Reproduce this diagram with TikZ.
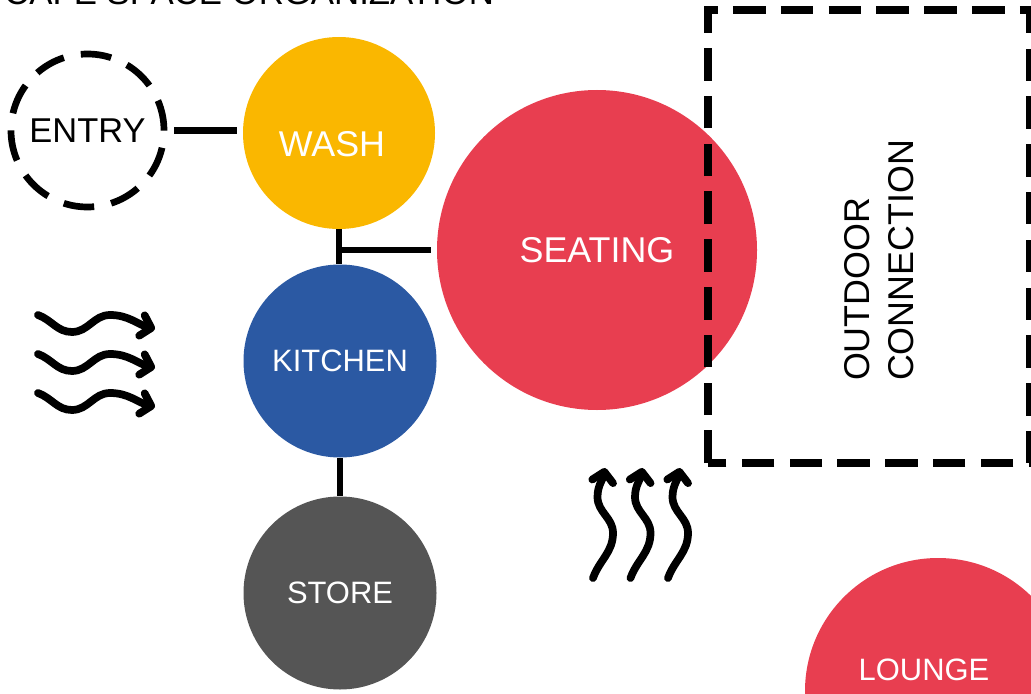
\documentclass[tikz,border=0pt]{standalone}
\usepackage{fontspec}
\setmainfont{Liberation Sans}
\usetikzlibrary{arrows.meta,positioning,calc}
\definecolor{washYellow}{RGB}{250,183,0}
\definecolor{kitchenBlue}{RGB}{43,89,163}
\definecolor{storeGray}{RGB}{85,85,85}
\definecolor{seatRed}{RGB}{232,62,80}
\tikzset{
  room/.style={circle, inner sep=0pt, text=white},
  bigtext/.style={font=\fontsize{20.4}{25}\selectfont},
  smalltext/.style={font=\fontsize{17.6}{21}\selectfont},
  entryring/.style={circle, draw=black, line width=3.8pt, inner sep=0pt,
    dash pattern=on 17.5pt off 9.85pt, font=\fontsize{19.6}{23}\selectfont},
  zonebox/.style={draw=black, line width=4pt, dash pattern=on 18.5pt off 8.7pt},
  link/.style={draw=black, line width=3.8pt},
  flowArrow/.style={line width=4.4pt, line cap=round,
    -{Straight Barb[length=5.5pt,width=12pt,round]}}
}

\begin{document}
\begin{tikzpicture}
  \useasboundingbox (0,0) rectangle (20.62,-13.86);
  \clip (0,0) rectangle (20.62,-13.86);
  \node[anchor=base west, font=\fontsize{19.8}{24}\selectfont] (title) at (-0.04,-0.1) {CAFE SPACE ORGANIZATION};

  \node[entryring, minimum size=3.06cm] (entry) at (1.75,-2.61) {ENTRY};
  \node[room, fill=washYellow, minimum size=3.84cm,
        label={[bigtext, text=white, xshift=-0.14cm, yshift=-0.22cm]center:WASH}] (wash) at (6.78,-2.66) {};
  \node[room, smalltext, fill=kitchenBlue, minimum size=3.86cm] (kitchen) at (6.8,-7.22) {KITCHEN};
  \node[room, smalltext, fill=storeGray, minimum size=3.86cm] (store) at (6.8,-11.86) {STORE};
  \node[room, bigtext, fill=seatRed, minimum size=6.4cm] (seating) at (11.94,-5.0) {SEATING};
  \node[room, fill=seatRed, minimum size=5.32cm,
        label={[smalltext, text=white, xshift=-0.28cm, yshift=0.42cm]center:LOUNGE}] (lounge) at (18.76,-13.82) {};

  % outdoor zone
  \draw[zonebox] (14.16,-9.26) rectangle (20.58,-0.2);
  \node[bigtext, rotate=90, align=left] (outdoor) at (17.58,-5.21) {OUTDOOR\\CONNECTION};

  \draw[link, shorten <=4pt, shorten >=3pt] (entry.east) -- (entry.east -| wash.west);
  \draw[link] (wash.south) -- (wash.south |- kitchen.north);
  \draw[link, shorten >=3pt] (wash.south |- seating.west) -- (seating.west);
  \draw[link] (kitchen.south) -- (store.north);

  % air flow
  \foreach \dy in {0,-0.78,-1.56}
    \draw[flowArrow, yshift=\dy cm] (0.76,-6.3) to[out=-20,in=180] (1.44,-6.64)
      to[out=0,in=180] (2.2,-6.3) to[out=0,in=165] (3.1,-6.58);
  \foreach \dx in {0,0.75,1.5}
    \draw[flowArrow, xshift=\dx cm] (11.86,-11.56) to[out=70,in=-90] (12.26,-10.66)
      to[out=90,in=-90] (11.95,-9.94) to[out=90,in=-100] (12.1,-9.36);
\end{tikzpicture}
\end{document}
